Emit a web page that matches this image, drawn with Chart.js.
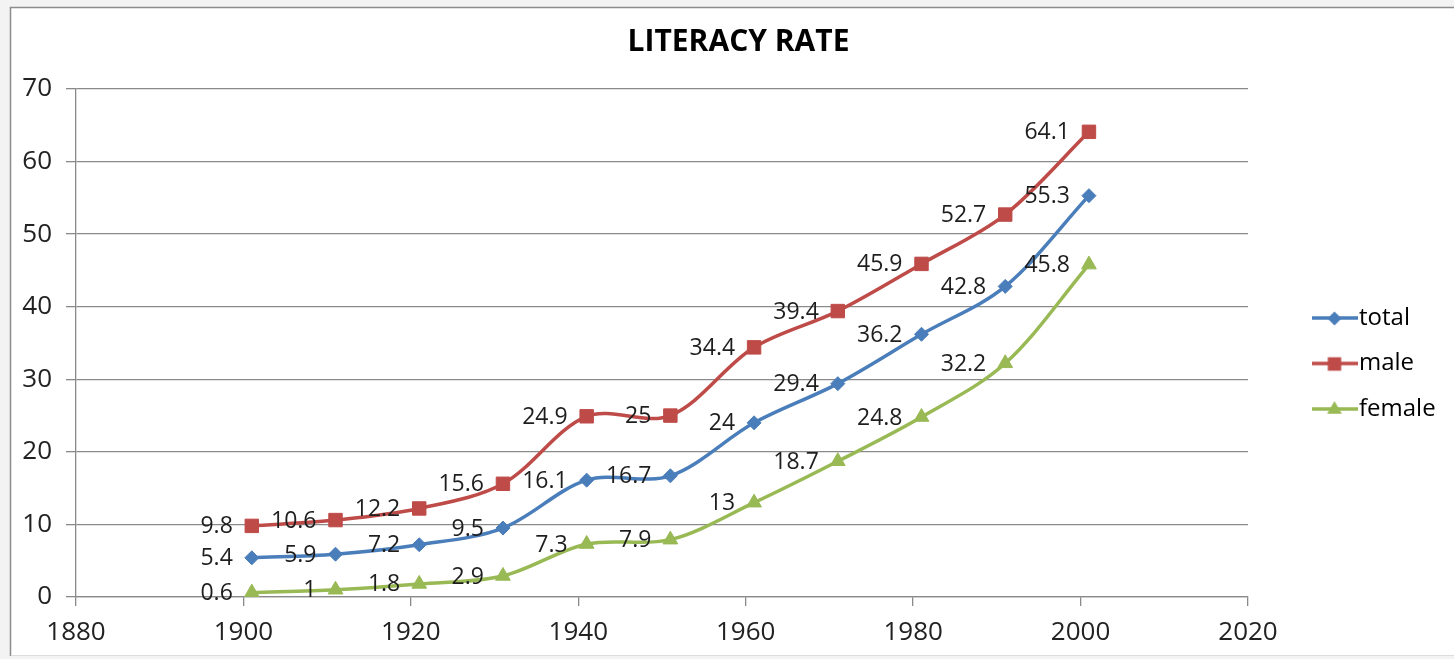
<!DOCTYPE html>
<html><head><meta charset="utf-8">
<script src="https://cdn.jsdelivr.net/npm/chart.js@4.4.1/dist/chart.umd.min.js"></script>
<style>html,body{margin:0;padding:0;background:#f3f3f3;overflow:hidden}#wrap{position:absolute;left:0;top:0;width:1454px;height:659px}</style>
</head><body><div id="wrap"><canvas id="c"></canvas></div>
<script>
const years = [1901, 1911, 1921, 1931, 1941, 1951, 1961, 1971, 1981, 1991, 2001];
const totalRate = [5.4, 5.9, 7.2, 9.5, 16.1, 16.7, 24, 29.4, 36.2, 42.8, 55.3];
const maleRate = [9.8, 10.6, 12.2, 15.6, 24.9, 25, 34.4, 39.4, 45.9, 52.7, 64.1];
const femaleRate = [0.6, 1, 1.8, 2.9, 7.3, 7.9, 13, 18.7, 24.8, 32.2, 45.8];
const seriesNames = ['total', 'male', 'female'];
const xTickValues = [1880, 1900, 1920, 1940, 1960, 1980, 2000, 2020];
const yTickValues = [0, 10, 20, 30, 40, 50, 60, 70];
const chartTitle = 'LITERACY RATE';

const FONT = '"Open Sans", "DejaVu Sans", sans-serif';
const colors = ['#4A7EBB', '#BE4B48', '#98B954'];
const styles = ['rectRot', 'rect', 'triangle'];
const radii = [7, 9.5, 8.5];

function shapePath(g, style, r, x, y) {
  g.beginPath();
  if (style === 'rectRot') {
    g.moveTo(x, y - r); g.lineTo(x + r, y); g.lineTo(x, y + r); g.lineTo(x - r, y);
  } else if (style === 'rect') {
    const s = r * Math.SQRT1_2;
    g.rect(x - s, y - s, 2 * s, 2 * s);
  } else {
    const a = Math.PI * 2 / 3;
    g.moveTo(x, y - r);
    g.lineTo(x + Math.sin(a) * r, y - Math.cos(a) * r);
    g.lineTo(x + Math.sin(2 * a) * r, y - Math.cos(2 * a) * r);
  }
  g.closePath();
}
function legendSample(color, style, r) {
  const c = document.createElement('canvas');
  c.width = 46; c.height = 22;
  const g = c.getContext('2d');
  g.strokeStyle = color; g.lineWidth = 3.5;
  g.beginPath(); g.moveTo(0, 11); g.lineTo(46, 11); g.stroke();
  g.fillStyle = color;
  shapePath(g, style, r, 23, 11.5);
  g.fill();
  return c;
}
const samples = colors.map((c, i) => legendSample(c, styles[i], radii[i]));

function pts(vals) { return years.map((yr, i) => ({ x: yr, y: vals[i] })); }
function ds(i, vals) {
  return {
    label: seriesNames[i], data: pts(vals),
    borderColor: colors[i], backgroundColor: colors[i],
    pointBackgroundColor: colors[i], pointBorderColor: colors[i], pointBorderWidth: 1,
    pointStyle: styles[i], pointRadius: radii[i], pointHoverRadius: radii[i],
    borderWidth: 3.5, tension: 0.33, fill: false
  };
}

const bgPlugin = {
  id: 'bg',
  beforeDraw(chart) {
    const g = chart.ctx; g.save();
    g.fillStyle = '#f3f3f3'; g.fillRect(0, 0, chart.width, chart.height);
    g.fillStyle = '#ffffff'; g.fillRect(11, 8, chart.width - 11, 647);
    g.strokeStyle = '#8c8c8c'; g.lineWidth = 1.5;
    g.beginPath(); g.moveTo(10.5, 656); g.lineTo(10.5, 7.5); g.lineTo(chart.width, 7.5); g.stroke();
    g.strokeStyle = '#dcdcdc'; g.lineWidth = 1;
    g.beginPath(); g.moveTo(11, 655.5); g.lineTo(chart.width, 655.5); g.stroke();
    g.restore();
  }
};
const labelPlugin = {
  id: 'pointLabels',
  afterDatasetsDraw(chart) {
    const g = chart.ctx; g.save();
    g.font = '23px ' + FONT; g.fillStyle = '#1e1e1e';
    g.textAlign = 'right'; g.textBaseline = 'middle';
    chart.data.datasets.forEach((d, di) => {
      chart.getDatasetMeta(di).data.forEach((p, i) => {
        g.fillText(String(d.data[i].y), p.x - 19, p.y + 1);
      });
    });
    g.restore();
  }
};
const placePlugin = {
  id: 'place',
  afterLayout(chart) {
    const t = chart.titleBlock;
    if (t) { t.left = 23; t.right = 1454; }
    const l = chart.legend;
    if (l) {
      const dx = chart.chartArea.right + 52.5 - l.left;
      l.left += dx; l.right += dx; l.top += 20.5; l.bottom += 20.5;
    }
  }
};

const chart = new Chart(document.getElementById('c'), {
  type: 'line',
  data: { datasets: [ds(0, totalRate), ds(1, maleRate), ds(2, femaleRate)] },
  options: {
    responsive: true, maintainAspectRatio: false, animation: false,
    layout: { padding: { left: 0, right: 62, top: 0, bottom: 0 } },
    plugins: {
      tooltip: { enabled: false },
      title: {
        display: true, text: chartTitle, color: '#000',
        font: { family: FONT, size: 30, weight: 'bold' },
        padding: { top: 24.5, bottom: 28.5 }
      },
      legend: {
        display: true, position: 'right', fullSize: false, align: 'center',
        labels: {
          usePointStyle: true, pointStyleWidth: 25, padding: 21.5, color: '#222',
          font: { family: FONT, size: 24 },
          generateLabels(ch) {
            return ch.data.datasets.map((d, i) => ({
              text: d.label, fillStyle: d.borderColor, strokeStyle: d.borderColor,
              lineWidth: 0, pointStyle: samples[i], datasetIndex: i, hidden: false
            }));
          }
        }
      }
    },
    scales: {
      x: {
        type: 'linear', min: 1880, max: 2020,
        afterBuildTicks: s => { s.ticks = xTickValues.map(v => ({ value: v })); },
        afterFit: s => { s.height = 62; },
        grid: { drawOnChartArea: false, drawTicks: true, tickLength: 9, color: '#8a8a8a', lineWidth: 1.3 },
        border: { display: true, color: '#8a8a8a', width: 1.3 },
        ticks: { padding: 11, color: '#222', font: { family: FONT, size: 26 }, maxRotation: 0, autoSkip: false, callback: v => String(v) }
      },
      y: {
        type: 'linear', min: 0, max: 70,
        afterBuildTicks: s => { s.ticks = yTickValues.map(v => ({ value: v })); },
        afterFit: s => { s.width = 76; },
        grid: { color: '#8a8a8a', lineWidth: 1.3, tickLength: 10 },
        border: { display: true, color: '#8a8a8a', width: 1.3 },
        ticks: { padding: 14, color: '#222', font: { family: FONT, size: 26 }, callback: v => String(v) }
      }
    }
  },
  plugins: [bgPlugin, labelPlugin, placePlugin]
});
const diff = chart.chartArea.right - 1248;
if (Math.abs(diff) > 0.5) {
  chart.options.layout.padding.right += diff;
  chart.update('none');
}
</script>
</body></html>
